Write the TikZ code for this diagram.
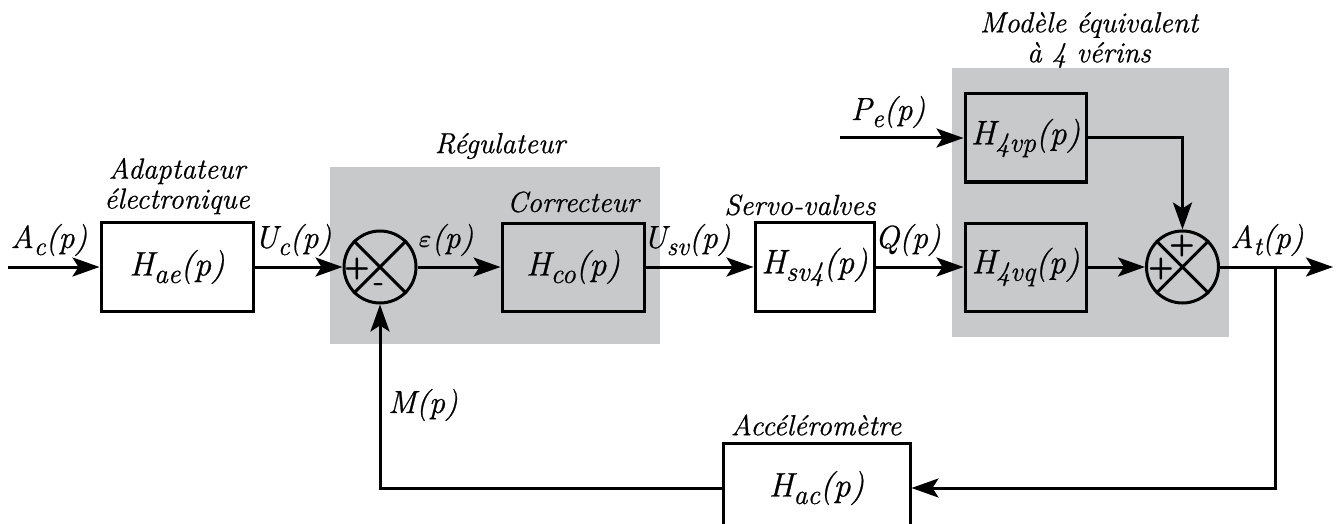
\documentclass[tikz,border=0pt]{standalone}
\usepackage{fontspec}
\setmainfont{Latin Modern Roman}[ItalicFeatures={FakeBold=0.7}]
\usetikzlibrary{arrows.meta}
\definecolor{regray}{RGB}{200,201,203}
\newcommand\sbs[1]{\raisebox{-0.22em}{\scalebox{0.82}{#1}}}
\tikzset{
  blk/.style={draw, line width=3pt, inner sep=0pt, font=\fontsize{34}{38}\selectfont\itshape},
  sig/.style={line width=3pt, -{Stealth[length=27pt,width=19pt,inset=6pt]}},
  wire/.style={line width=3pt},
  sumn/.style={circle, draw, line width=3pt, minimum size=72pt, inner sep=0pt},
  lbl/.style={font=\fontsize{32}{36}\selectfont\itshape, inner sep=0pt},
  ann/.style={font=\fontsize{29}{30}\selectfont\itshape, align=center, inner sep=0pt},
  sgn/.style={font=\fontsize{30}{30}\selectfont\sffamily\bfseries, inner sep=0pt}
}
\begin{document}
\begin{tikzpicture}[x=1pt,y=-1pt]
\useasboundingbox (0,0) rectangle (1339,524);
% gray regions
\fill[regray] (330,167) rectangle (660,344);
\fill[regray] (952,68) rectangle (1229,337);
% blocks
\node[blk, minimum width=152pt, minimum height=89pt] (hae) at (177,267) {H\sbs{ae}(p)};
\node[blk, minimum width=142pt, minimum height=88pt] (hco) at (573,267) {H\sbs{co}(p)};
\node[blk, minimum width=119pt, minimum height=89pt] (hsv) at (814.5,267) {H\sbs{sv4}(p)};
\node[blk, minimum width=121pt, minimum height=88pt] (h4p) at (1025.5,138) {H\sbs{4vp}(p)};
\node[blk, minimum width=121pt, minimum height=88pt] (h4q) at (1025.5,267) {H\sbs{4vq}(p)};
\node[blk, minimum width=187pt, minimum height=90pt] (hac) at (816.5,488) {H\sbs{ac}(p)};
% summing junctions
\node[sumn] (s1) at (380,267) {};
\draw[wire] (s1.45) -- (s1.225) (s1.135) -- (s1.-45);
\node[sgn] (s1p) at (357,269) {+};
\node[sgn] (s1m) at (379,288) {-};
\node[sumn] (s2) at (1182.5,267) {};
\draw[wire] (s2.45) -- (s2.225) (s2.135) -- (s2.-45);
\node[sgn] (s2a) at (1182,246) {+};
\node[sgn] (s2b) at (1161,269) {+};
% coordinates
\coordinate (in) at (8,267);
\coordinate (pe) at (840,138);
\coordinate (out) at (1333,267);
\coordinate (br) at (1275,267);
% connectors
\draw[sig] (in) -- (hae);
\draw[sig] (hae) -- (s1);
\draw[sig] (s1) -- (hco);
\draw[sig] (hco) -- (hsv);
\draw[sig] (hsv) -- (h4q);
\draw[sig] (h4q) -- (s2);
\draw[sig] (s2) -- (out);
\draw[sig] (pe) -- (h4p);
\draw[sig] (h4p) -| (s2);
\draw[sig] (br) |- (hac);
\draw[sig] (hac) -| (s1);
% signal labels
\node[lbl] (lac) at (49,240) {A\sbs{c}(p)};
\node[lbl] (luc) at (293,240) {U\sbs{c}(p)};
\node[lbl] (leps) at (446,240) {{\boldmath$\varepsilon$}(p)};
\node[lbl] (lusv) at (687,240) {U\sbs{sv}(p)};
\node[lbl] (lq) at (908,240) {Q(p)};
\node[lbl] (lat) at (1267,240) {A\sbs{t}(p)};
\node[lbl] (lpe) at (888,112) {P\sbs{e}(p)};
\node[lbl] (lm) at (423,405) {M(p)};
% annotations
\node[ann] (a1) at (177,186) {Adaptateur\\électronique};
\node[ann] (a2) at (500,146) {Régulateur};
\node[ann] (a3) at (573,202) {Correcteur};
\node[ann] (a4) at (800,205) {Servo-valves};
\node[ann] (a5) at (1089,40) {Modèle équivalent\\à 4 vérins};
\node[ann] (a6) at (816,425) {Accéléromètre};
\end{tikzpicture}
\end{document}
